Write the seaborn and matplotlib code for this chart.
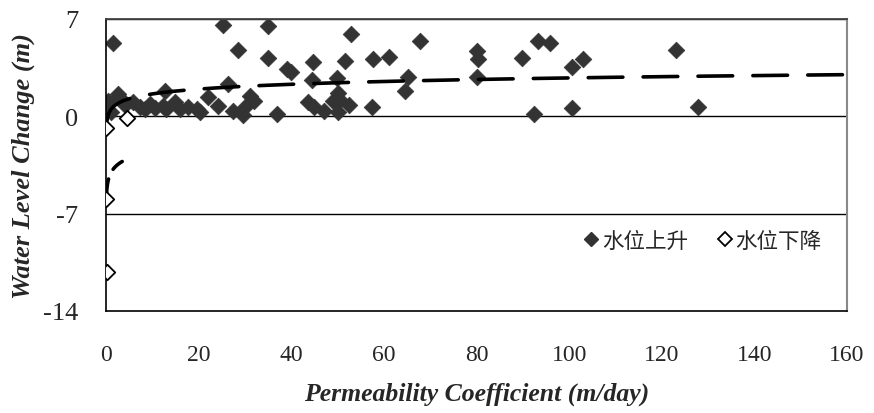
import numpy as np
import pandas as pd
import matplotlib
matplotlib.use("Agg")
import matplotlib.pyplot as plt
import seaborn as sns
from matplotlib.lines import Line2D

# ---- data ----
rise_x = [0.5, 1.5, 0.2, 1.0, 2.6, 2.8, 4.0, 5.8, 7.3, 8.4, 9.5, 10.5, 12.3, 12.7, 13.0,
          15.0, 16.0, 17.7, 19.6, 20.3, 22.0, 24.2, 25.3, 26.3, 27.5, 28.5, 29.6, 30.0,
          31.0, 32.0, 35.0, 35.0, 37.0, 39.0, 40.0, 43.6, 44.5, 44.7, 45.0, 47.0, 49.0,
          49.9, 50.0, 50.5, 50.0, 51.6, 52.5, 53.0, 57.5, 57.7, 61.0, 64.6, 65.2, 67.8,
          80.0, 80.3, 80.0, 89.8, 92.4, 93.3, 95.9, 100.6, 103.0, 100.6, 123.1, 127.9]
rise_y = [1.1, 5.3, 0.5, 0.3, 1.6, 1.4, 0.8, 1.0, 0.65, 0.5, 0.87, 0.6, 0.72, 1.8, 0.5,
          1.0, 0.5, 0.65, 0.5, 0.3, 1.4, 0.72, 6.6, 2.3, 0.4, 4.8, 0.1, 0.7,
          1.45, 1.1, 6.5, 4.2, 0.2, 3.4, 3.2, 1.0, 2.6, 3.9, 0.65, 0.35, 1.1,
          2.75, 1.7, 1.2, 0.3, 4.0, 0.85, 5.9, 0.65, 4.1, 4.3, 1.8, 2.8, 5.4,
          4.7, 4.1, 2.8, 4.2, 0.15, 5.4, 5.3, 3.55, 4.1, 0.6, 4.8, 0.7]
fall_x = [0.1, 4.5, 0.1, 0.2]
fall_y = [-0.85, -0.1, -5.95, -11.2]

# logarithmic trendline coefficients y = a*ln(x) + b
rise_trend_a, rise_trend_b = 0.50, 0.46
fall_trend_a, fall_trend_b = 0.68, -4.10
rise_trend_range = (0.2, 160)
fall_trend_range = (0.1, 3.5)

x_ticks = [0, 20, 40, 60, 80, 100, 120, 140, 160]
y_ticks = [-14, -7, 0, 7]
legend_labels = ["水位上升", "水位下降"]
x_label = "Permeability Coefficient (m/day)"
y_label = "Water Level Change (m)"

# ---- plot ----
sns.set_style("white")
plt.rcParams['font.family'] = ['Liberation Serif', 'DejaVu Serif']
plt.rcParams['axes.unicode_minus'] = False

fig = plt.figure(figsize=(8.74, 4.14), dpi=100)
ax = fig.add_axes([106/874, 1-312/414, (847-106)/874, (312-20)/414])

df_rise = pd.DataFrame({"x": rise_x, "y": rise_y})
df_fall = pd.DataFrame({"x": fall_x, "y": fall_y})

# gridlines
for yv in y_ticks[1:]:
    ax.axhline(yv, color="black", lw=1.0, zorder=1)

# trend lines
dash = (0, (9.6, 5.6))
tx = np.geomspace(*rise_trend_range, 400)
ax.plot(tx, rise_trend_a*np.log(tx)+rise_trend_b, color="black", lw=2.6,
        linestyle=dash, dash_capstyle="round", zorder=3)
tx2 = np.geomspace(*fall_trend_range, 100)
ax.plot(tx2, fall_trend_a*np.log(tx2)+fall_trend_b, color="black", lw=2.6,
        linestyle=(0, (4.5, 3.0)), dash_capstyle="round", zorder=3)

sns.scatterplot(data=df_rise, x="x", y="y", ax=ax, marker="D", s=72,
                color="#333333", edgecolor="#333333", linewidth=0.5, zorder=2, legend=False)
sns.scatterplot(data=df_fall, x="x", y="y", ax=ax, marker="D", s=62,
                facecolor="white", edgecolor="black", linewidth=1.3, zorder=4, legend=False)

ax.set_xlim(0, 160)
ax.set_ylim(-14, 7)
ax.set_xticks(x_ticks)
ax.set_yticks(y_ticks)
ax.tick_params(axis="x", direction="in", length=5, width=1, pad=24, labelsize=17)
ax.tick_params(axis="y", length=0, pad=20, labelsize=19)

for s in ["left", "bottom"]:
    ax.spines[s].set_color("black")
    ax.spines[s].set_linewidth(1.2)
ax.spines["top"].set_color("#444444")
ax.spines["top"].set_linewidth(1.3)
ax.spines["right"].set_color("#888888")
ax.spines["right"].set_linewidth(1.5)

ax.set_xlabel(x_label, fontsize=18.5, fontweight="bold", fontstyle="italic", labelpad=12)
ax.set_ylabel(y_label, fontsize=19, fontweight="bold", fontstyle="italic", labelpad=6)

handles = [Line2D([], [], marker="D", linestyle="none", markersize=7,
                  markerfacecolor="#333333", markeredgecolor="#333333"),
           Line2D([], [], marker="D", linestyle="none", markersize=7,
                  markerfacecolor="white", markeredgecolor="black", markeredgewidth=1.3)]
leg = ax.legend(handles, legend_labels, ncol=2, loc="center left",
                bbox_to_anchor=(0.62, 0.24), frameon=False, handlelength=0.6,
                handletextpad=0.2, columnspacing=1.4,
                prop={"family": ["Noto Sans CJK TC"], "size": 15.5})

fig.savefig("out.png", dpi=100)
